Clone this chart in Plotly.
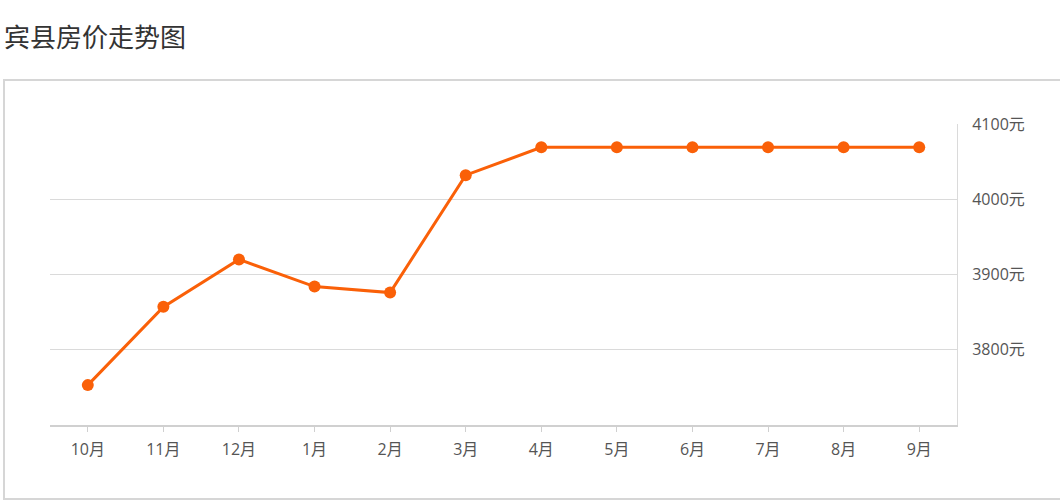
import plotly.graph_objects as go

months = ["10月", "11月", "12月", "1月", "2月", "3月", "4月", "5月", "6月", "7月", "8月", "9月"]
prices = [3753, 3857, 3920, 3884, 3876, 4032, 4069, 4069, 4069, 4069, 4069, 4069]
y_ticks = [3800, 3900, 4000, 4100]

W, H = 1060, 504
L, R, T, B = 50, 957, 124, 425

fig = go.Figure()
fig.add_trace(go.Scatter(
    x=list(range(len(months))), y=prices, mode="lines+markers",
    line=dict(color="#fa6008", width=3),
    marker=dict(color="#fa6008", size=12),
    hoverinfo="x+y",
))

def px_x(p):
    return (p - L) / (R - L)

def px_y(p):
    return (B - p) / (B - T)

tick_font = dict(family="Open Sans, Noto Sans CJK SC, sans-serif", size=16, color="#555")

fig.update_layout(
    width=W, height=H,
    margin=dict(l=L, r=W - R, t=T, b=H - B, autoexpand=False),
    paper_bgcolor="white", plot_bgcolor="white",
    showlegend=False,
    font=dict(family="Noto Sans CJK SC, Noto Sans, sans-serif", color="#555", size=14),
    title=dict(text="宾县房价走势图", x=4 / W, xanchor="left", y=1 - 38 / H, yanchor="middle",
               font=dict(size=26, color="#333")),
    xaxis=dict(
        tickmode="array", tickvals=list(range(len(months))), ticktext=months,
        range=[-0.5, len(months) - 0.5], showgrid=False, zeroline=False,
        showline=True, linecolor="#d0d0d0", linewidth=2,
        ticks="outside", ticklen=5, tickcolor="#d0d0d0", tickwidth=1,
        ticklabelstandoff=4,
        tickfont=tick_font, fixedrange=True,
    ),
    yaxis=dict(
        side="right", range=[3700, 4100], tickvals=y_ticks,
        ticktext=[f"{v}元" for v in y_ticks],
        showgrid=True, gridcolor="#dadada", gridwidth=1, zeroline=False,
        showline=True, linecolor="#dadada", linewidth=1,
        ticks="", ticklabelstandoff=11,
        tickfont=tick_font, fixedrange=True,
    ),
    shapes=[dict(
        type="rect", xref="paper", yref="paper",
        x0=px_x(4), x1=px_x(1075), y0=px_y(499), y1=px_y(80),
        line=dict(color="#d6d6d6", width=2), fillcolor="rgba(0,0,0,0)", layer="below",
    )],
)

fig.write_html("out.html", config={"displayModeBar": False},
               post_script="document.body.style.margin='0';")
